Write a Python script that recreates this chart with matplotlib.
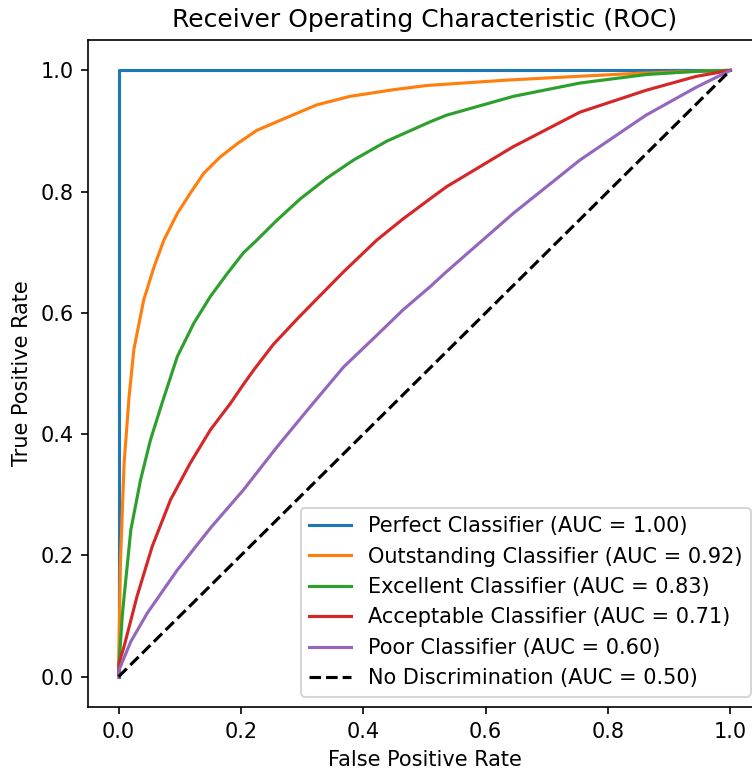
import numpy as np
import matplotlib
matplotlib.use("Agg")
import matplotlib.pyplot as plt

# Curves (FPR, TPR)
perfect_fpr = [0.0, 0.0, 1.0]
perfect_tpr = [0.0, 1.0, 1.0]

outstanding_fpr = [0.0, 0.0005, 0.003, 0.009, 0.017, 0.025, 0.041, 0.058, 0.074, 0.096,
                   0.117, 0.139, 0.166, 0.194, 0.226, 0.27, 0.324, 0.378, 0.449, 0.504,
                   0.637, 0.75, 0.847, 0.93, 1.0]
outstanding_tpr = [0.0, 0.044, 0.188, 0.352, 0.46, 0.54, 0.621, 0.676, 0.72, 0.764,
                   0.797, 0.83, 0.857, 0.879, 0.901, 0.92, 0.943, 0.957, 0.968, 0.975,
                   0.984, 0.99, 0.995, 0.998, 1.0]

excellent_fpr = [0.0, 0.0005, 0.006, 0.009, 0.02, 0.036, 0.052, 0.071, 0.096, 0.123,
                 0.15, 0.177, 0.204, 0.226, 0.259, 0.297, 0.34, 0.384, 0.438, 0.509,
                 0.536, 0.645, 0.754, 0.862, 0.94, 1.0]
excellent_tpr = [0.0, 0.017, 0.1, 0.132, 0.242, 0.325, 0.39, 0.451, 0.528, 0.583,
                 0.627, 0.664, 0.699, 0.72, 0.753, 0.788, 0.822, 0.852, 0.883, 0.915,
                 0.926, 0.957, 0.979, 0.993, 0.998, 1.0]

acceptable_fpr = [0.0, 0.001, 0.009, 0.03, 0.055, 0.085, 0.117, 0.15, 0.183, 0.204,
                  0.221, 0.237, 0.253, 0.292, 0.324, 0.368, 0.422, 0.465, 0.509, 0.536,
                  0.645, 0.754, 0.862, 0.944, 1.0]
acceptable_tpr = [0.0, 0.023, 0.05, 0.132, 0.215, 0.292, 0.352, 0.407, 0.451, 0.482,
                  0.506, 0.527, 0.548, 0.59, 0.623, 0.668, 0.72, 0.755, 0.788, 0.808,
                  0.874, 0.931, 0.967, 0.99, 1.0]

poor_fpr = [0.0, 0.001, 0.02, 0.047, 0.096, 0.128, 0.15, 0.204, 0.259, 0.313, 0.368,
            0.422, 0.465, 0.509, 0.536, 0.645, 0.754, 0.862, 0.944, 1.0]
poor_tpr = [0.0, 0.012, 0.058, 0.105, 0.176, 0.217, 0.245, 0.308, 0.379, 0.445, 0.511,
            0.563, 0.605, 0.643, 0.668, 0.764, 0.852, 0.926, 0.972, 1.0]

chance_fpr = [0.0, 1.0]
chance_tpr = [0.0, 1.0]

labels = ["Perfect Classifier (AUC = 1.00)",
          "Outstanding Classifier (AUC = 0.92)",
          "Excellent Classifier (AUC = 0.83)",
          "Acceptable Classifier (AUC = 0.71)",
          "Poor Classifier (AUC = 0.60)",
          "No Discrimination (AUC = 0.50)"]

dpi = 150
fig = plt.figure(figsize=(752 / dpi, 772 / dpi), dpi=dpi)
# axes box placed in pixels; right edge runs a bit past the figure like the reference
ax = fig.add_axes([88 / 752, 65 / 772, 673 / 752, 667 / 772])

ax.plot(perfect_fpr, perfect_tpr, label=labels[0])
ax.plot(outstanding_fpr, outstanding_tpr, label=labels[1])
ax.plot(excellent_fpr, excellent_tpr, label=labels[2])
ax.plot(acceptable_fpr, acceptable_tpr, label=labels[3])
ax.plot(poor_fpr, poor_tpr, label=labels[4])
ax.plot(chance_fpr, chance_tpr, 'k--', label=labels[5])

ax.set_xlabel('False Positive Rate')
ax.set_ylabel('True Positive Rate')
ax.set_title('Receiver Operating Characteristic (ROC)')
ax.legend(loc='lower right')

fig.savefig('out.png', dpi=dpi)
